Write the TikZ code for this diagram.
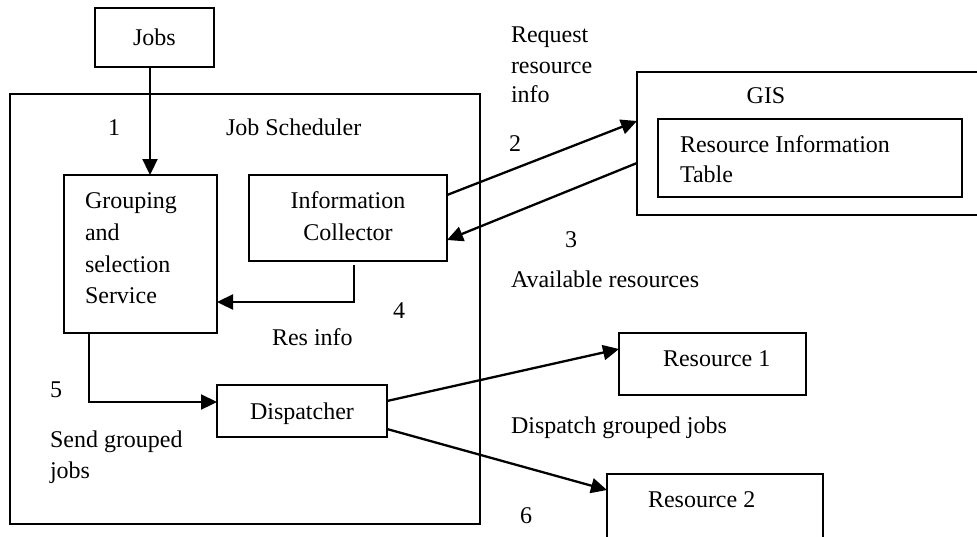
\documentclass[tikz,border=0pt]{standalone}
\usepackage{fontspec}
\setmainfont{Liberation Serif}
\usetikzlibrary{arrows.meta}

\tikzset{
  box/.style={draw, line width=1.5pt, inner sep=0pt, outer sep=0pt},
  arr/.style={line width=2.3pt, -{Triangle[length=16pt,width=15pt]}},
  txt/.style={inner sep=0pt, outer sep=0pt, font=\fontsize{24}{31}\selectfont},
  lt/.style={txt, anchor=base west},
  ct/.style={txt, anchor=base}
}

\begin{document}
\begin{tikzpicture}[x=1pt, y=-1pt]
  \clip (0,0) rectangle (977,536);
  \fill[white] (0,0) rectangle (977,536);

  % boxes
  \node[box, minimum width=119pt, minimum height=59pt]  (jobs)  at (154.5,37.5) {};
  \node[box, minimum width=470pt, minimum height=430pt] (sched) at (245,309) {};
  \node[box, minimum width=153pt, minimum height=158pt] (grp)   at (140.5,254) {};
  \node[box, minimum width=198pt, minimum height=86pt]  (ic)    at (348,218) {};
  \node[box, minimum width=170pt, minimum height=52pt]  (disp)  at (302,411) {};
  \node[box, minimum width=353pt, minimum height=143pt] (gis)   at (813.5,143.5) {};
  \node[box, minimum width=304pt, minimum height=78pt]  (rit)   at (810,158) {};
  \node[box, minimum width=187pt, minimum height=62pt]  (res1)  at (712.5,364) {};
  \node[box, minimum width=216pt, minimum height=76pt]  (res2)  at (715,512) {};

  % box texts
  \node[ct] (tjobs) at (154.5,45) {Jobs};
  \node[lt] (tsched) at (226,135) {Job Scheduler};
  \node[lt] (tg1) at (85,208) {Grouping};
  \node[lt] (tg2) at (85,240) {and};
  \node[lt] (tg3) at (85,272) {selection};
  \node[lt] (tg4) at (85,303) {Service};
  \node[ct] (tic1) at (348,208) {Information};
  \node[ct] (tic2) at (348,240) {Collector};
  \node[lt] (tdisp) at (250,419) {Dispatcher};
  \node[ct] (tgis) at (766,103) {GIS};
  \node[lt] (trit1) at (680,152) {Resource Information};
  \node[lt] (trit2) at (680,182) {Table};
  \node[lt] (tres1) at (663,366) {Resource 1};
  \node[lt] (tres2) at (648,507) {Resource 2};

  % connector labels
  \node[lt] (n1) at (108,135) {1};
  \node[lt] (n2) at (509,151) {2};
  \node[lt] (n3) at (565,247) {3};
  \node[lt] (n4) at (393,318) {4};
  \node[lt] (n5) at (50,397) {5};
  \node[lt] (n6) at (520,523) {6};
  \node[lt] (lreq1) at (511,42) {Request};
  \node[lt] (lreq2) at (511,73) {resource};
  \node[lt] (lreq3) at (511,102) {info};
  \node[lt] (lavail) at (511,287) {Available resources};
  \node[lt] (lres) at (272,345) {Res info};
  \node[lt] (lsend1) at (50,447) {Send grouped};
  \node[lt] (lsend2) at (50,478) {jobs};
  \node[lt] (ldisp) at (511,433) {Dispatch grouped jobs};

  % connectors
  \draw[arr] ([xshift=-4.5pt]jobs.south) -- ([xshift=-4.5pt]jobs.south |- grp.north);
  \draw[arr] ([xshift=6pt,yshift=-4pt]ic.south) |- ([yshift=-48pt]grp.east);
  \draw[arr] ([xshift=-51.5pt]grp.south) |- ([yshift=9pt]disp.west);
  \draw[arr] ([yshift=23pt]ic.east) -- ([yshift=22.5pt]gis.west);
  \draw[arr] ([yshift=-19.5pt]gis.west) -- ([yshift=-22pt]ic.east);
  \draw[arr] ([yshift=10pt]disp.east) -- ([yshift=15pt]res1.west);
  \draw[arr] ([yshift=-18pt]disp.east) -- ([yshift=-16pt]res2.north west);
\end{tikzpicture}
\end{document}
